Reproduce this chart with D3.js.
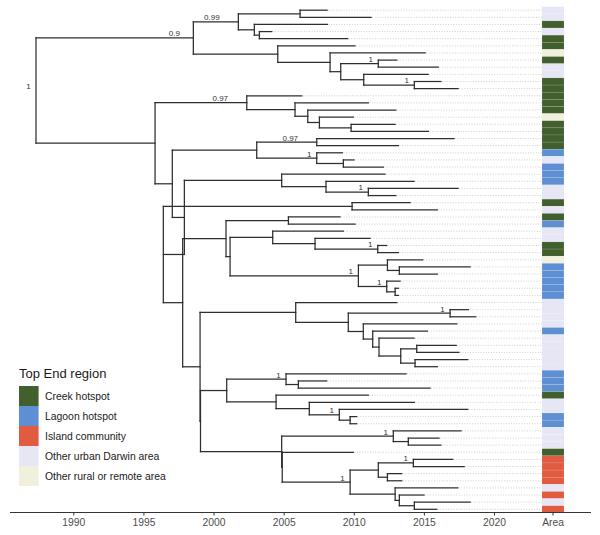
<!DOCTYPE html>
<html><head><meta charset="utf-8">
<script src="https://cdn.jsdelivr.net/npm/d3@7"></script>
<style>
body{margin:0;background:#fff}
svg{display:block}
text{font-family:"Liberation Sans",Arial,Helvetica,sans-serif}
</style>
</head><body>
<svg id="chart" width="600" height="535"></svg>
<script>
// ---------------- DATA ----------------
// tip sampling dates (decimal years), top to bottom
const tipDates = [
  2008.10, 2011.23, 2008.12, 2004.15, 2009.57, 2010.09, 2015.09, 2013.07, 2016.03, 2015.30,
  2016.21, 2017.44, 2006.29, 2011.04, 2013.00, 2009.97, 2012.95, 2015.32, 2017.15, 2013.18,
  2009.19, 2010.02, 2012.11, 2012.23, 2014.30, 2017.44, 2013.00, 2014.02, 2015.96, 2009.02,
  2010.09, 2009.26, 2011.16, 2012.35, 2013.18, 2014.92, 2018.30, 2015.96, 2013.30, 2013.18,
  2013.18, 2013.07, 2018.17, 2018.70, 2017.35, 2015.25, 2014.30, 2017.30, 2017.49, 2018.13,
  2015.96, 2013.73, 2008.07, 2015.44, 2011.04, 2014.32, 2018.13, 2010.21, 2010.21, 2017.65,
  2016.08, 2016.21, 2009.97, 2017.06, 2017.87, 2013.42, 2013.42, 2017.42, 2015.01, 2018.30,
  2015.92
];
// area of each tip: C creek, L lagoon, I island, U urban, R rural
const tipArea = [
  "U","U","C","U","C","C","R","C","U","U",
  "C","C","C","C","C","R","C","C","C","C",
  "L","U","L","L","L","U","U","C","U","C",
  "L","U","U","C","C","R","L","L","L","L",
  "L","U","U","U","U","L","U","U","U","U",
  "U","L","L","L","C","U","U","L","L","U",
  "U","U","C","I","I","I","I","U","I","U",
  "I"
];
const areaCodes  = ["C", "L", "I", "U", "R"];
const areaNames  = ["Creek hotspot", "Lagoon hotspot", "Island community", "Other urban Darwin area", "Other rural or remote area"];
const areaColors = ["#42602e", "#5f8fd3", "#e05b40", "#e6e6f4", "#f0f0dc"];
const tickYears  = [1990, 1995, 2000, 2005, 2010, 2015, 2020];

// internal nodes: id, date, children (top to bottom), posterior support label
const nodeIds = ["root","D","D1","A","B","C","E","F","G","H","I","J",
  "K","L","M","N","O","P","Q","R","S","T","U","W","V","X","Y","AA","Z","CC",
  "DD","FF","EE","GG","II","JJ","HH","KK","MM","LL","NN",
  "BB","OO","PP","QQ","RR","SS","TT","UU","VV","WW",
  "BB2","XX","YY","ZZ","AB","AC","AD","AE","AF2","AG","AI","AF1","AH","AJ","AK","AL","AM","AN","AO"];
const nodeDates = [1987.34,1998.56,2001.77,2006.17,2002.91,2003.27,2004.58,2008.31,2009.07,2011.75,2010.71,2014.32,
  1995.83,2002.37,2005.81,2006.72,2007.55,2009.81,1997.06,2003.08,2007.36,2007.36,2009.26,1997.92,2004.86,2008.02,2011.04,1996.42,2009.88,1997.80,
  2000.89,2005.34,2001.18,2004.22,2007.24,2011.71,2010.33,2012.40,2013.25,2012.35,2012.95,
  1999.04,2005.86,2009.61,2016.87,2010.68,2011.35,2011.80,2013.35,2014.49,2014.37,
  1999.07,2000.94,2005.17,2006.05,2004.46,2006.83,2008.97,2009.74,2004.86,2012.82,2013.89,2004.90,2009.74,2011.75,2014.25,2012.40,2012.95,2013.25,2014.32];
const nodeKids = [["D","K"],["D1","E"],["A","B"],["t0","t1"],["t2","C"],["t3","t4"],["t5","F"],["t6","G"],["H","I"],["t7","t8"],["t9","J"],["t10","t11"],
  ["L","Q"],["t12","M"],["t13","N"],["t14","O"],["t15","P"],["t16","t17"],["R","W"],["S","T"],["t18","t19"],["t20","U"],["t21","t22"],["V","AA"],["t23","X"],["t24","Y"],["t25","t26"],["Z","CC"],["t27","t28"],["DD","BB"],
  ["FF","EE"],["t29","t30"],["GG","HH"],["t31","II"],["t32","JJ"],["t33","t34"],["KK","LL"],["t35","MM"],["t36","t37"],["t38","NN"],["t39","t40"],
  ["OO","BB2"],["t41","PP"],["QQ","RR"],["t42","t43"],["t44","SS"],["t45","TT"],["t46","UU"],["VV","WW"],["t47","t48"],["t49","t50"],
  ["XX","AF2"],["YY","AB"],["t51","ZZ"],["t52","t53"],["t54","AC"],["t55","AD"],["t56","AE"],["t57","t58"],["AG","AF1"],["t59","AI"],["t60","t61"],["t62","AH"],["AJ","AM"],["AK","AL"],["t63","t64"],["t65","t66"],["t67","AN"],["t68","AO"],["t69","t70"]];
const nodeSupport = ["1","0.9","0.99","","","","","","","1","","1",
  "","0.97","","","","","","","0.97","1","","","","","1","","","",
  "","","","","","1","1","","","1","",
  "","","","1","","","","","","",
  "","","1","","","","1","","","1","","","1","","1","","","",""];

// ---------------- BUILD TREE ----------------
const nodeMap = {};
nodeIds.forEach((id, i) => nodeMap[id] = {id, date: nodeDates[i], kids: nodeKids[i], support: nodeSupport[i]});
function build(id) {
  if (!nodeMap[id]) {
    const i = +id.slice(1);
    return {id, tip: i, date: tipDates[i], area: tipArea[i]};
  }
  const n = nodeMap[id];
  return {id, date: n.date, support: n.support, children: n.kids.map(build)};
}
const root = d3.hierarchy(build("root"));

// ---------------- SCALES ----------------
const svg = d3.select("#chart");
const x = d3.scaleLinear().domain([1990, 2020]).range([73.3, 494]);
const y = d3.scaleLinear().domain([0, tipDates.length - 1]).range([10.2, 509.3]);
const rowH = y(1) - y(0);
const areaX = d3.scaleBand().domain(["Area"]).range([542, 564]);
const color = d3.scaleOrdinal().domain(areaCodes).range(areaColors);
const axisY = 512.5;

root.eachAfter(d => {
  d.px = x(d.data.date);
  if (!d.children) d.py = y(d.data.tip);
  else d.py = (d.children[0].py + d.children[d.children.length - 1].py) / 2;
});

// ---------------- DOTTED GUIDES ----------------
const leaves = root.leaves();
svg.append("g").selectAll("line").data(leaves).join("line")
  .attr("x1", d => d.px + 1).attr("x2", areaX("Area"))
  .attr("y1", d => d.py).attr("y2", d => d.py)
  .attr("stroke", "#bdbdbd").attr("stroke-width", 0.75).attr("stroke-dasharray", "1,1.6");

// ---------------- AREA COLUMN ----------------
svg.append("g").selectAll("rect").data(leaves).join("rect")
  .attr("x", areaX("Area")).attr("width", areaX.bandwidth())
  .attr("y", d => d.py - rowH / 2).attr("height", rowH)
  .attr("fill", d => color(d.data.area))
  .attr("stroke", "#ffffff").attr("stroke-opacity", 0.22).attr("stroke-width", 0.5);

// ---------------- TREE ----------------
const treeG = svg.append("g").attr("fill", "none").attr("stroke", "#2e2e2e")
  .attr("stroke-width", 1.25).attr("stroke-linecap", "square");
// vertical connectors
treeG.selectAll("line.v").data(root.descendants().filter(d => d.children)).join("line")
  .attr("class", "v")
  .attr("x1", d => d.px).attr("x2", d => d.px)
  .attr("y1", d => d.children[0].py).attr("y2", d => d.children[d.children.length - 1].py);
// horizontal branches
treeG.selectAll("line.h").data(root.descendants().filter(d => d.parent)).join("line")
  .attr("class", "h")
  .attr("x1", d => d.parent.px).attr("x2", d => d.px)
  .attr("y1", d => d.py).attr("y2", d => d.py);

// support labels
const labG = svg.append("g").attr("font-size", 8).attr("fill", "#333");
root.descendants().filter(d => d.children && d.data.support).forEach(d => {
  const t = labG.append("text").text(d.data.support).attr("text-anchor", "end");
  const w = t.node().getComputedTextLength();
  t.attr("x", d.px - 1.2 * w).attr("y", d.py - 1.6);
});

// ---------------- AXIS ----------------
const axG = svg.append("g").attr("transform", `translate(0,${axisY})`);
axG.append("line").attr("x1", 10).attr("x2", 591).attr("stroke", "#333").attr("stroke-width", 1);
const yearAxis = d3.axisBottom(x).tickValues(tickYears).tickFormat(d3.format("d")).tickSize(3).tickPadding(3.5);
const areaAxis = d3.axisBottom(areaX).tickSize(3).tickPadding(3.5);
[yearAxis, areaAxis].forEach(ax => {
  const g = axG.append("g").call(ax);
  g.select(".domain").remove();
  g.selectAll(".tick line").attr("stroke", "#333");
  g.selectAll(".tick text").attr("fill", "#4d4d4d").attr("font-size", 10.3)
    .attr("font-family", "Liberation Sans, Arial, sans-serif");
});

// ---------------- LEGEND ----------------
const leg = svg.append("g").attr("transform", "translate(19,0)");
leg.append("text").text("Top End region").attr("x", 0).attr("y", 377.5)
  .attr("font-size", 13).attr("fill", "#1a1a1a");
const keyY = d3.scaleBand().domain(areaCodes).range([386, 486]);
areaCodes.forEach((c, i) => {
  leg.append("rect").attr("x", 0).attr("y", keyY(c)).attr("width", 19.6).attr("height", keyY.bandwidth())
    .attr("fill", areaColors[i]);
  leg.append("text").text(areaNames[i]).attr("x", 26).attr("y", keyY(c) + keyY.bandwidth() / 2 + 3.8)
    .attr("font-size", 10.4).attr("fill", "#1a1a1a");
});
</script>
</body></html>
